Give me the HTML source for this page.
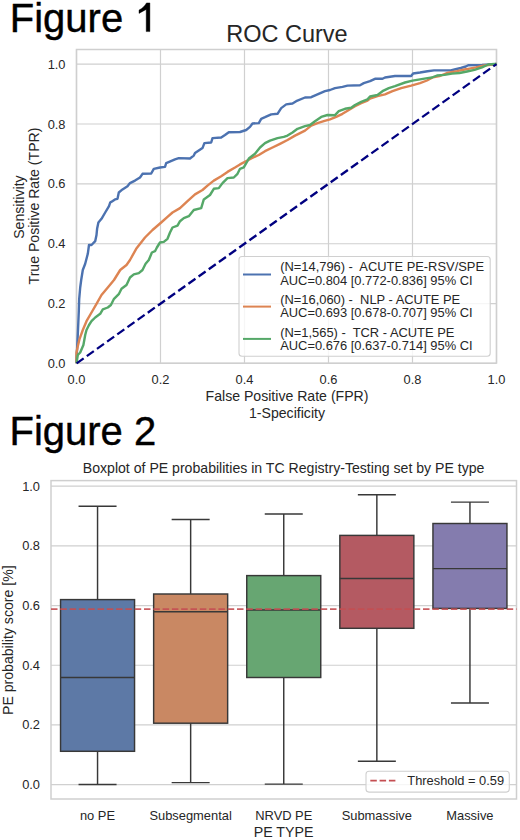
<!DOCTYPE html><html><head><meta charset="utf-8"><style>
html,body{margin:0;padding:0;background:#fff;width:520px;height:840px;overflow:hidden}
svg{display:block;font-family:"Liberation Sans", sans-serif}
</style></head><body>
<svg width="520" height="840" viewBox="0 0 520 840">
<rect width="520" height="840" fill="#fff"/>
<text transform="translate(9.8,31.6) scale(1,1.02)" font-size="40" fill="#000" stroke="#000" stroke-width="0.4">Figure</text>
<path d="M149.9 31.6H146.2V9.4L139.0 13.4V10.1C142.2 8.5 145.0 5.6 146.5 2.9H149.9Z" fill="#000" stroke="#000" stroke-width="0.4"/>
<text transform="translate(9.45,445.1) scale(1,1.02)" font-size="40" fill="#000" stroke="#000" stroke-width="0.4">Figure 2</text>
<g>
<path d="M76.50 49.5V363 M76.5 363.50H496.5 M160.50 49.5V363 M76.5 303.62H496.5 M244.50 49.5V363 M76.5 243.74H496.5 M328.50 49.5V363 M76.5 183.86H496.5 M412.50 49.5V363 M76.5 123.98H496.5 M496.50 49.5V363 M76.5 64.10H496.5" stroke="#d0d0d0" stroke-width="1.2" fill="none"/>
<rect x="76.5" y="49.5" width="420" height="313.6" fill="none" stroke="#cfcfcf" stroke-width="1.5"/>
<polyline points="76.5,363.2 76.5,357.5 77.1,348.8 78.0,330.0 78.8,311.2 79.2,298.8 80.2,287.5 81.2,280.0 82.8,270.0 85.2,263.8 87.8,253.8 89.0,245.0 91.5,245.0 95.2,241.2 96.5,235.0 97.1,228.8 98.4,222.5 101.5,218.8 105.2,212.5 109.0,206.2 110.2,202.5 111.2,201.9 115.0,199.4 117.5,198.8 118.8,192.5 122.5,189.4 127.5,186.2 130.0,183.1 135.0,180.6 140.0,177.5 142.5,173.8 151.2,173.5 153.8,168.8 160.0,167.5 165.0,166.9 166.2,163.1 175.0,159.4 178.8,158.1 190.0,158.5 193.8,155.6 195.0,153.1 202.5,148.1 204.4,143.1 211.2,142.5 212.5,138.1 221.2,137.5 225.0,135.0 228.8,132.2 240.0,132.0 246.2,130.0 250.0,126.9 252.5,123.5 258.8,123.1 261.2,118.8 265.0,117.2 271.2,114.4 277.5,113.8 281.2,108.1 286.2,104.4 292.5,103.5 296.2,101.2 305.0,97.5 311.2,97.2 317.5,94.4 325.0,91.2 330.0,90.0 335.0,88.1 342.5,86.9 347.5,85.6 360.0,85.2 363.8,83.1 370.0,81.2 375.0,78.8 382.5,78.8 385.0,77.5 395.0,76.0 411.2,76.0 413.1,73.5 420.0,72.5 427.5,71.2 434.0,70.4 450.8,70.4 454.5,69.5 460.8,68.0 465.8,66.5 468.2,65.2 482.0,64.9 494.5,64.2 496.5,64.0" fill="none" stroke="#4c72b0" stroke-width="2.4" stroke-linejoin="round"/>
<polyline points="76.5,363.2 76.5,352.5 77.8,346.2 79.6,338.8 82.8,330.0 86.5,321.2 91.5,312.5 96.5,303.8 101.5,295.0 107.8,287.5 114.0,280.0 120.2,270.0 126.5,265.0 130.0,260.0 136.2,248.8 145.0,237.5 152.5,230.0 161.2,222.5 167.5,216.9 172.5,212.5 180.0,208.1 187.5,201.2 195.0,194.4 202.5,190.0 207.5,185.6 213.8,180.6 221.2,176.2 227.5,171.9 235.0,167.5 240.0,164.4 251.7,158.2 258.8,155.0 265.0,151.2 272.5,147.5 280.0,143.8 287.5,140.0 295.0,135.6 305.0,130.6 311.2,125.6 317.5,123.1 323.8,121.2 330.0,119.4 336.2,116.9 342.5,113.8 348.8,110.0 355.0,106.2 361.2,103.1 367.5,100.6 370.0,98.5 377.5,96.2 385.0,94.4 392.5,91.2 401.2,88.1 411.2,85.6 420.0,83.1 427.0,80.5 433.0,77.3 439.5,76.1 447.0,73.0 457.0,71.1 464.5,69.5 469.5,68.6 475.8,67.4 484.5,65.5 494.5,64.2 496.5,64.0" fill="none" stroke="#dd8452" stroke-width="2.4" stroke-linejoin="round"/>
<polyline points="76.5,363.2 77.8,355.0 80.2,352.5 83.4,345.0 85.2,335.0 86.5,330.0 89.0,325.0 91.5,321.2 95.2,317.5 100.2,313.8 102.8,309.4 107.8,307.5 110.9,305.0 114.0,298.8 119.0,293.8 121.5,288.8 126.5,285.0 130.0,277.5 133.8,274.4 138.8,273.1 142.5,270.0 145.6,263.8 148.8,260.0 151.9,252.5 155.0,251.2 156.9,247.5 160.0,242.5 163.8,241.9 167.5,238.8 170.0,232.5 172.5,227.5 177.5,225.6 180.0,221.2 183.8,218.1 188.8,216.2 193.8,210.0 201.2,208.1 203.8,199.4 210.0,195.0 213.8,188.8 218.8,188.1 222.5,183.1 227.5,178.1 233.8,177.5 237.5,173.8 240.0,168.8 243.8,167.4 249.1,158.2 255.0,153.8 260.0,147.5 265.0,143.1 270.0,140.6 277.5,138.1 283.8,136.9 287.5,135.6 292.5,132.5 297.5,128.8 305.0,126.2 310.0,125.0 315.0,121.2 321.2,116.9 327.5,115.0 335.0,115.2 338.8,111.2 345.0,108.8 351.2,107.8 355.0,105.0 361.2,101.9 367.5,99.4 370.0,96.5 377.5,95.0 382.5,91.2 388.8,88.1 395.0,86.2 405.0,82.5 412.5,80.6 420.0,79.4 427.5,78.1 432.0,77.5 437.0,75.5 444.5,74.9 452.0,73.6 459.5,73.0 467.0,71.5 474.5,69.9 482.0,67.4 488.2,64.5 494.5,64.0 496.5,64.0" fill="none" stroke="#55a868" stroke-width="2.4" stroke-linejoin="round"/>
<line x1="76.5" y1="363.5" x2="496.5" y2="64.10000000000002" stroke="#000080" stroke-width="2.3" stroke-dasharray="8.62 3.86" stroke-dashoffset="-0.17"/>
<text x="286.9" y="42" font-size="23.5" fill="#262626" text-anchor="middle">ROC Curve</text>
<text x="65.5" y="368.0" font-size="12.85" fill="#262626" text-anchor="end">0.0</text>
<text x="65.5" y="308.1" font-size="12.85" fill="#262626" text-anchor="end">0.2</text>
<text x="65.5" y="248.2" font-size="12.85" fill="#262626" text-anchor="end">0.4</text>
<text x="65.5" y="188.4" font-size="12.85" fill="#262626" text-anchor="end">0.6</text>
<text x="65.5" y="128.5" font-size="12.85" fill="#262626" text-anchor="end">0.8</text>
<text x="65.5" y="68.6" font-size="12.85" fill="#262626" text-anchor="end">1.0</text>
<text x="76.5" y="384" font-size="12.85" fill="#262626" text-anchor="middle">0.0</text>
<text x="160.5" y="384" font-size="12.85" fill="#262626" text-anchor="middle">0.2</text>
<text x="244.5" y="384" font-size="12.85" fill="#262626" text-anchor="middle">0.4</text>
<text x="328.5" y="384" font-size="12.85" fill="#262626" text-anchor="middle">0.6</text>
<text x="412.5" y="384" font-size="12.85" fill="#262626" text-anchor="middle">0.8</text>
<text x="496.5" y="384" font-size="12.85" fill="#262626" text-anchor="middle">1.0</text>
<text x="287" y="400.8" font-size="14.1" fill="#262626" text-anchor="middle">False Positive Rate (FPR)</text>
<text x="287" y="417.6" font-size="14.1" fill="#262626" text-anchor="middle">1-Specificity</text>
<text transform="translate(24.2,207.1) rotate(-90)" font-size="14.1" fill="#262626" text-anchor="middle">Sensitivity</text>
<text transform="translate(38.6,206) rotate(-90)" font-size="14.1" fill="#262626" text-anchor="middle">True Positive Rate (TPR)</text>
<rect x="239" y="256.5" width="251.2" height="99.8" rx="3" fill="#fff" fill-opacity="0.8" stroke="#d0d0d0" stroke-width="1.1"/>
<line x1="243" y1="274.5" x2="271" y2="274.5" stroke="#4c72b0" stroke-width="2"/>
<text x="280.2" y="271.1" font-size="12.9" fill="#262626" xml:space="preserve">(N=14,796) -  ACUTE PE-RSV/SPE</text>
<text x="280.2" y="284.6" font-size="12.9" fill="#262626" xml:space="preserve">AUC=0.804 [0.772-0.836] 95% CI</text>
<line x1="243" y1="306.6" x2="271" y2="306.6" stroke="#dd8452" stroke-width="2"/>
<text x="280.2" y="303.6" font-size="12.9" fill="#262626" xml:space="preserve">(N=16,060) -  NLP - ACUTE PE</text>
<text x="280.2" y="317.1" font-size="12.9" fill="#262626" xml:space="preserve">AUC=0.693 [0.678-0.707] 95% CI</text>
<line x1="243" y1="338.9" x2="271" y2="338.9" stroke="#55a868" stroke-width="2"/>
<text x="280.2" y="336.9" font-size="12.9" fill="#262626" xml:space="preserve">(N=1,565) -  TCR - ACUTE PE</text>
<text x="280.2" y="350.4" font-size="12.9" fill="#262626" xml:space="preserve">AUC=0.676 [0.637-0.714] 95% CI</text>
</g>
<g>
<path d="M51.0 784.60H516.5 M51.0 724.92H516.5 M51.0 665.24H516.5 M51.0 605.56H516.5 M51.0 545.88H516.5 M51.0 486.20H516.5" stroke="#d0d0d0" stroke-width="1.2" fill="none"/>
<rect x="51.0" y="480.6" width="465.5" height="318.4" fill="none" stroke="#cfcfcf" stroke-width="1.5"/>
<path d="M97.55 506.2V599.6 M97.55 751.3V784.5 M78.55 506.2H116.55 M78.55 784.5H116.55" stroke="#383838" stroke-width="1.45" fill="none"/>
<rect x="60.55" y="599.6" width="74.00" height="151.70" fill="#5d79a6" stroke="#383838" stroke-width="1.45"/>
<line x1="60.55" y1="677.5" x2="134.55" y2="677.5" stroke="#383838" stroke-width="1.45"/>
<path d="M190.65 519.5V594.0 M190.65 723.2V782.6 M171.65 519.5H209.65 M171.65 782.6H209.65" stroke="#383838" stroke-width="1.45" fill="none"/>
<rect x="153.65" y="594.0" width="74.00" height="129.20" fill="#c98863" stroke="#383838" stroke-width="1.45"/>
<line x1="153.65" y1="611.8" x2="227.65" y2="611.8" stroke="#383838" stroke-width="1.45"/>
<path d="M283.75 514.0V575.6 M283.75 677.5V784.1 M264.75 514.0H302.75 M264.75 784.1H302.75" stroke="#383838" stroke-width="1.45" fill="none"/>
<rect x="246.75" y="575.6" width="74.00" height="101.90" fill="#67a672" stroke="#383838" stroke-width="1.45"/>
<line x1="246.75" y1="610.0" x2="320.75" y2="610.0" stroke="#383838" stroke-width="1.45"/>
<path d="M376.85 494.8V535.4 M376.85 628.3V761.2 M357.85 494.8H395.85 M357.85 761.2H395.85" stroke="#383838" stroke-width="1.45" fill="none"/>
<rect x="339.85" y="535.4" width="74.00" height="92.90" fill="#b45a62" stroke="#383838" stroke-width="1.45"/>
<line x1="339.85" y1="578.5" x2="413.85" y2="578.5" stroke="#383838" stroke-width="1.45"/>
<path d="M469.95 502.1V523.5 M469.95 608.4V702.9 M450.95 502.1H488.95 M450.95 702.9H488.95" stroke="#383838" stroke-width="1.45" fill="none"/>
<rect x="432.95" y="523.5" width="74.00" height="84.90" fill="#847cae" stroke="#383838" stroke-width="1.45"/>
<line x1="432.95" y1="568.6" x2="506.95" y2="568.6" stroke="#383838" stroke-width="1.45"/>
<line x1="51.0" y1="609.00" x2="516.5" y2="609.00" stroke="#c44e52" stroke-opacity="0.9" stroke-width="1.75" stroke-dasharray="6.5 2.8"/>
<text x="283.6" y="473.3" font-size="14.1" fill="#262626" text-anchor="middle">Boxplot of PE probabilities in TC Registry-Testing set by PE type</text>
<text x="40" y="789.1" font-size="12.85" fill="#262626" text-anchor="end">0.0</text>
<text x="40" y="729.4" font-size="12.85" fill="#262626" text-anchor="end">0.2</text>
<text x="40" y="669.7" font-size="12.85" fill="#262626" text-anchor="end">0.4</text>
<text x="40" y="610.1" font-size="12.85" fill="#262626" text-anchor="end">0.6</text>
<text x="40" y="550.4" font-size="12.85" fill="#262626" text-anchor="end">0.8</text>
<text x="40" y="490.7" font-size="12.85" fill="#262626" text-anchor="end">1.0</text>
<text x="97.5" y="819.9" font-size="12.9" fill="#262626" text-anchor="middle">no PE</text>
<text x="190.6" y="819.9" font-size="12.9" fill="#262626" text-anchor="middle">Subsegmental</text>
<text x="283.8" y="819.9" font-size="12.9" fill="#262626" text-anchor="middle">NRVD PE</text>
<text x="376.8" y="819.9" font-size="12.9" fill="#262626" text-anchor="middle">Submassive</text>
<text x="469.9" y="819.9" font-size="12.9" fill="#262626" text-anchor="middle">Massive</text>
<text x="283.6" y="836.9" font-size="14.2" fill="#262626" text-anchor="middle">PE TYPE</text>
<text transform="translate(13,640.2) rotate(-90)" font-size="14.1" fill="#262626" text-anchor="middle">PE probability score [%]</text>
<rect x="366" y="771.3" width="143.3" height="20.8" rx="3" fill="#fff" fill-opacity="0.8" stroke="#d0d0d0" stroke-width="1.1"/>
<line x1="370.3" y1="780.5" x2="396.3" y2="780.5" stroke="#c44e52" stroke-width="1.75" stroke-dasharray="6.5 2.8"/>
<text x="407.3" y="785.1" font-size="12.85" fill="#262626">Threshold = 0.59</text>
</g>
</svg></body></html>
